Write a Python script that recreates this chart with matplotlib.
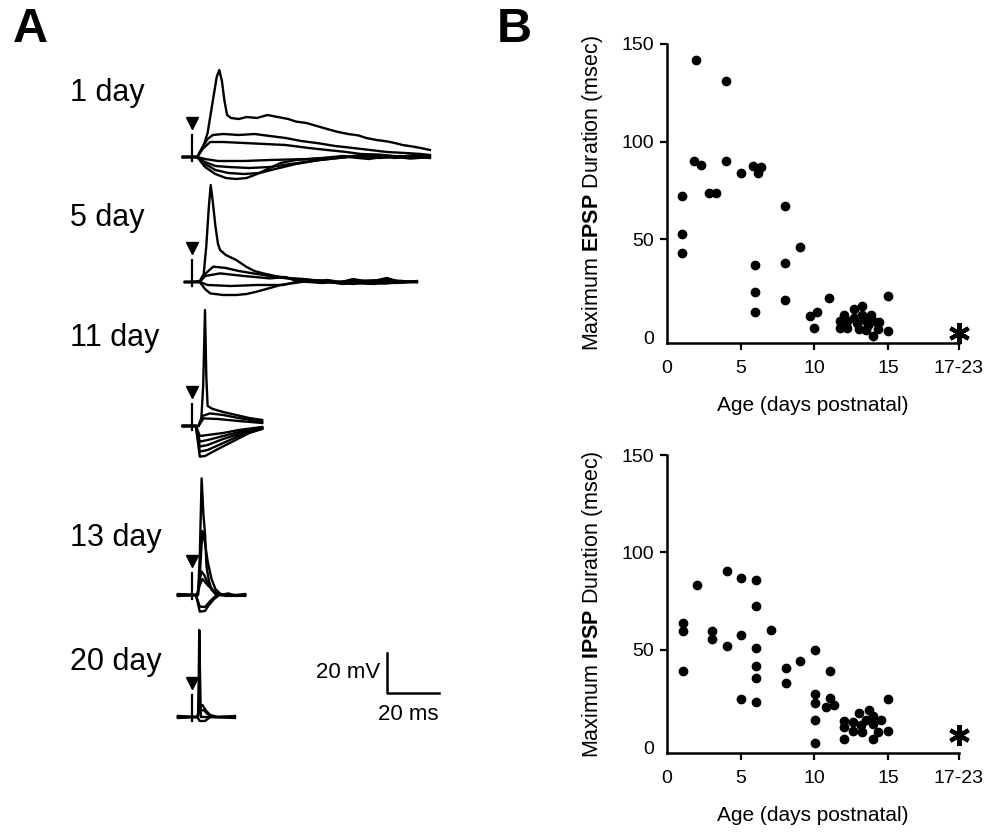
import numpy as np
import matplotlib
matplotlib.use('Agg')
import matplotlib.pyplot as plt

plt.rcParams['font.family'] = ['Liberation Sans', 'DejaVu Sans']
plt.rcParams['mathtext.fontset'] = 'custom'
plt.rcParams['mathtext.rm'] = 'Liberation Sans'
plt.rcParams['mathtext.bf'] = 'Liberation Sans:bold'

#%% data

# panel B scatter: age (days) vs max duration (msec); 19.8 = "17-23" column
epsp_age = [2.0, 4.0, 1.8, 2.3, 4.0, 5.0, 5.8, 6.2, 6.4, 1.0, 2.85, 3.3, 8.0, 1.0, 1.0,
            9.0, 6.0, 8.0, 6.0, 8.0, 6.0, 11.0, 15.0, 9.7, 10.2, 10.0, 15.0,
            11.7, 11.7, 12.0, 12.2, 12.2, 12.7, 12.7, 12.9, 13.0, 13.2, 13.2, 13.4,
            13.6, 13.5, 13.8, 14.0, 14.0, 14.4, 14.3]
epsp_dur = [142, 131, 90, 88, 90, 84, 87.5, 84, 87, 72, 74, 74, 67, 53, 43,
            46, 37, 38, 23, 19, 13, 20, 21, 11, 13, 4.5, 3,
            8.5, 4.5, 11.5, 8.5, 4.5, 14.5, 10, 7, 4, 16, 11.5, 9,
            6, 3.5, 11.5, 8.5, 0.5, 8, 4]

ipsp_age = [1.08, 1.08, 1.08, 2.05, 3.05, 3.05, 4.05, 4.05, 5.05, 5.05, 5.05,
            6.05, 6.05, 6.05, 6.05, 6.05, 6.05, 7.05, 8.05, 8.05, 9.05,
            10.05, 10.05, 10.05, 10.05, 10.05, 11.05, 11.05, 10.8, 11.3,
            12.0, 12.0, 12.0, 12.6, 12.6, 13.0, 13.15, 13.2, 13.7, 13.5, 13.95,
            14.0, 14.0, 14.3, 14.5, 15.0, 15.0]
ipsp_dur = [63.5, 59.5, 39, 83, 59.5, 55.5, 90.5, 52, 87, 57.5, 24.5,
            86, 72.5, 51, 41.5, 35.5, 23, 60, 40.5, 33, 44,
            50, 27.5, 22.5, 14, 2, 39, 25, 20.5, 21.5,
            13.3, 10.5, 4, 13, 8.5, 17.5, 11.5, 8, 19, 14, 16,
            12, 4, 8, 14, 8.5, 24.5]

epsp_star = (19.8, 2)
ipsp_star = (19.8, 6)

age_ticks = [0, 5, 10, 15, 19.8]
age_labels = ['0', '5', '10', '15', '17-23']
dur_ticks = [0, 50, 100, 150]

# panel A traces: (ms after stimulus, mV from baseline)
day_labels = ['1 day', '5 day', '11 day', '13 day', '20 day']

day1 = [
    [(-3.5, 0), (0, 0), (2, 0), (4, 4), (6, 12), (8, 28), (9.5, 40), (10.5, 43.5), (11.5, 38),
     (12.5, 28), (13.5, 21), (15, 19.5), (18, 19), (21, 20), (25, 19.5), (29, 21), (33, 20),
     (37, 19), (40, 17.7), (44, 17), (48, 15.5), (52, 14), (55.6, 12.7), (60, 11.5), (64, 10.8),
     (67, 9.5), (71, 8.5), (75, 7.8), (78, 7), (81, 6), (85, 5.2), (88, 4.5), (91.5, 3.5)],
    [(-3.5, 0), (2, 0), (4, 5), (6, 9), (8, 11), (12, 11.5), (18, 11), (24, 11.5), (30, 10.5),
     (36, 9.5), (42, 8), (49, 6.8), (55, 5.5), (62, 4.5), (68.5, 3.5), (75, 2.5), (82, 2),
     (88, 1.5), (91.5, 1)],
    [(-3.5, 0), (2, 0), (4, 4), (7, 7.5), (12, 7.5), (20, 7), (28, 6.5), (36, 6), (45, 4.5),
     (52, 3.5), (58, 2.7), (65, 1.5), (72, 1.2), (80, 0.2), (86, 1), (91.5, 0.5)],
    [(-3.5, 0), (2, 0), (5, -1), (10, -2), (20, -2), (30, -1.5), (45, -1), (60, 0), (70, 1),
     (78, -0.5), (85, 0.5), (91.5, 0)],
    [(-3.5, 0), (2, 0), (5, -2.5), (9, -4.5), (14, -5), (22, -5.5), (30, -5), (38, -3.5),
     (46, -2), (56, -0.5), (64, 0.8), (72, -0.5), (80, 0.5), (91.5, -0.5)],
    [(-3.5, 0), (2, 0), (5, -3.5), (9, -6.5), (14, -8), (20, -8.5), (26, -8), (32, -6),
     (40, -3.5), (49, -1.5), (60, 0), (68, -1), (76, 0.5), (84, -0.8), (91.5, 0)],
    [(-3.5, 0), (2, 0), (5, -5), (9, -8.5), (13, -10.5), (17, -11), (21, -10.5), (25, -8.5),
     (30, -5.5), (34, -3), (40, -1.5), (50, -0.5), (58, 0.5), (66, -0.3), (91.5, 0)],
]

day5 = [
    [(-2.7, 0), (0, 0), (3, 0.5), (4.5, 4), (5.5, 18), (6.5, 38), (7.2, 48.5), (8, 40), (9, 28),
     (10, 19), (10.8, 16), (13, 13.5), (17, 11), (21, 7.5), (24, 5.5), (27.4, 4.3), (32, 3),
     (37, 2), (43, 1.5), (50, 0.5), (56, -0.5), (62, 1.5), (68, 0), (75, 2), (80, 0), (86.5, 0)],
    [(-2.7, 0), (3, 0), (5, 4), (8.2, 7.7), (13, 7), (18, 5.5), (23.6, 4.3), (30, 3),
     (36.4, 1.8), (45, 1), (55, 0), (62, -1), (70, 0.5), (78, -0.5), (86.5, 0)],
    [(-2.7, 0), (3, 0), (5, 3), (10.8, 4.3), (20, 3), (30, 1.8), (36, 2.5), (40, 0.5),
     (50, -0.5), (60, 0.5), (75, 1), (86.5, 0)],
    [(-2.7, 0), (3, 0), (6, -1.5), (15, -2), (25, -1.5), (35, -1.5), (40, 0), (48, 0.8),
     (58, -1), (66, 0), (74, -0.8), (86.5, 0.5)],
    [(-2.7, 0), (3, 0), (5, -3.5), (7, -5.7), (12, -6.5), (17, -6.5), (21, -6), (25, -4.8),
     (30, -3), (34, -1.5), (42, 0), (52, 1), (60, -0.5), (70, -1), (80, 0.5), (86.5, 0)],
]

day11 = [
    [(-3.5, 0), (0, 0), (2.5, 0), (3.6, 4), (4.3, 20), (5, 58), (5.5, 25), (6, 10), (8, 8.5),
     (12, 7), (17, 5.5), (22, 4), (27, 3)],
    [(-3.5, 0), (2.5, 0), (4, 5), (6.9, 6.3), (12, 5.5), (18, 4), (27, 2)],
    [(-3.5, 0), (2.5, 0), (4.4, 3.8), (10, 3.5), (18, 2.5), (27, 1.5)],
    [(-3.5, 0), (1.5, 0), (3, -15.3), (5, -15), (10, -11.5), (16, -7.5), (22, -3.5), (27, -1.5)],
    [(-3.5, 0), (1.5, 0), (3, -12.8), (6, -12), (12, -8.5), (18, -5), (27, -1.2)],
    [(-3.5, 0), (1.5, 0), (3, -10.3), (6, -9.5), (12, -6.5), (18, -4), (27, -1)],
    [(-3.5, 0), (1.5, 0), (3, -7.8), (6, -7), (12, -5), (18, -3), (27, -0.8)],
    [(-3.5, 0), (1.5, 0), (3, -5), (6, -4.5), (12, -3.5), (18, -2), (27, -0.5)],
]

day13 = [
    [(-5.4, 0), (0, 0), (2.3, 0), (3, 20), (3.7, 58.3), (4.4, 40), (5, 30.8), (5.6, 14),
     (6.5, 7), (7.6, 2.5), (9, 0.5), (11, 0), (14, 0.8), (17, -0.5), (20.4, 0)],
    [(-5.4, 0.5), (2.3, 0), (3, 10), (4, 32), (5, 26), (6, 17), (7.5, 8), (9, 3), (11, 0.5),
     (15, -0.5), (20.4, 0.5)],
    [(-5.4, -0.5), (2, 0), (3, 8), (3.7, 11.7), (4.7, 10), (6, 6), (8, 2.5), (11, 0), (20.4, -0.5)],
    [(-5.4, 0), (2, 0), (3, 5), (4, 8), (6, 5), (9, 1), (13, -0.5), (20.4, 0)],
    [(-5.4, 0), (1.5, 0), (3, -8.3), (5, -8), (6.5, -5), (8.5, -2), (10.5, 0), (20.4, 0)],
    [(-5.4, 0), (1.5, 0), (3, -5.8), (5, -6), (7, -3), (9.5, 0), (20.4, 0)],
]

day20 = [
    [(-5.4, 0), (0, 0), (2.3, 0), (2.6, 20), (2.8, 43.5), (3.1, 20), (3.4, 0), (6, 0),
     (16.5, 0)],
    [(-5.4, 0.5), (2, 0), (3, 5), (4, 6), (5.5, 3), (7, 1), (10, 0), (16.5, 0.5)],
    [(-5.4, -0.5), (2, 0), (3, 3), (4.5, 3.5), (6, 1.5), (8, 0), (16.5, -0.5)],
    [(-5.4, 0), (2, 0), (3, -2), (5, -2), (7, 0), (16.5, 0)],
]

#%% layout (pixel helpers)
W, H = 1004, 834
fig = plt.figure(figsize=(W / 100, H / 100), dpi=100)

# panel A axes in ms / mV: 2.6 px per ms, 2 px per mV, stimulus at x px 192
px_ms, px_mv = 2.6, 2.0
a_left, a_right, a_top, a_bot = 160, 460, 40, 780
ax_a = fig.add_axes([a_left / W, 1 - a_bot / H, (a_right - a_left) / W, (a_bot - a_top) / H])
ax_a.set_xlim((a_left - 192) / px_ms, (a_right - 192) / px_ms)
ax_a.set_ylim(0, (a_bot - a_top) / px_mv)
ax_a.axis('off')

def mv_at(py):
    return (a_bot - py) / px_mv

row_base_px = [157, 282, 426, 595, 717]
row_label_px = [93, 218, 338, 538, 662]
all_rows = [day1, day5, day11, day13, day20]

for i_row in range(len(all_rows)):
    base = mv_at(row_base_px[i_row])
    for tr in all_rows[i_row]:
        ts, vs = zip(*tr)
        ax_a.plot(ts, np.array(vs) + base, color='black', lw=1.7, solid_joinstyle='round')
    # stimulus artifact and arrow
    ax_a.plot([0, 0], [base - 2, base + 11], color='black', lw=1.6)
    ax_a.plot([0], [base + 17], marker='v', color='black', ms=8)
    fig.text(70 / W, 1 - row_label_px[i_row] / H, day_labels[i_row], fontsize=22,
             ha='left', va='center')

# scale bar
sb_t, sb_v = (386.5 - 192) / px_ms, mv_at(693)
ax_a.plot([sb_t, sb_t, sb_t + 20], [sb_v + 20, sb_v, sb_v], color='black', lw=1.8)
ax_a.text(sb_t - 2.5, sb_v + 10, '20 mV', fontsize=16, ha='right', va='center')
ax_a.text(sb_t + 8.5, sb_v - 11, '20 ms', fontsize=16, ha='center', va='center')

fig.text(13 / W, 1 - 30 / H, 'A', fontsize=35, fontweight='bold', va='center', ha='left')
fig.text(497 / W, 1 - 30 / H, 'B', fontsize=35, fontweight='bold', va='center', ha='left')

#%% panel B scatters
def scatter_panel(rect, ages, durs, star, which):
    ax = fig.add_axes(rect)
    ax.plot(ages, durs, 'o', color='black', ms=6)
    ax.plot([star[0]], [star[1]], marker=(6, 2, 0), color='black', ms=15, mew=3,
            clip_on=False)
    ax.set_xlim(0, 19.8)
    ax.set_ylim(-3, 150)
    ax.set_xticks(age_ticks)
    ax.set_xticklabels(age_labels)
    ax.set_yticks(dur_ticks)
    for s in ['top', 'right']:
        ax.spines[s].set_visible(False)
    for s in ['left', 'bottom']:
        ax.spines[s].set_linewidth(1.8)
    ax.tick_params(direction='out', length=5, width=1.6, labelsize=14)
    ax.tick_params(axis='x', pad=7)
    ax.tick_params(axis='y', pad=4.5)
    ax.xaxis.get_major_ticks()[0].tick1line.set_visible(False)
    ax.yaxis.get_major_ticks()[0].tick1line.set_visible(False)
    ax.set_xlabel('Age (days postnatal)', fontsize=15, labelpad=14)
    ax.set_ylabel('Maximum $\\mathbf{' + which + '}$ Duration (msec)', fontsize=15.5,
                  labelpad=12)
    return ax

b_left, b_right = 667, 959
scatter_panel([b_left / W, 1 - 343 / H, (b_right - b_left) / W, (343 - 44) / H],
              epsp_age, epsp_dur, epsp_star, 'EPSP')
scatter_panel([b_left / W, 1 - 753 / H, (b_right - b_left) / W, (753 - 455) / H],
              ipsp_age, ipsp_dur, ipsp_star, 'IPSP')

fig.savefig('out.png', dpi=100)
